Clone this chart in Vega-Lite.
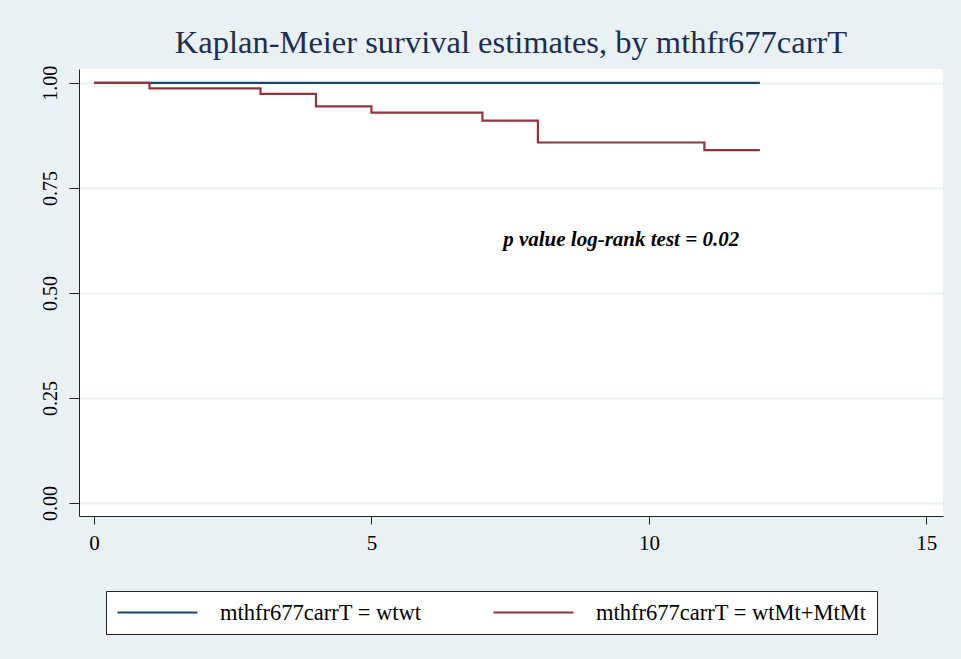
{
  "$schema": "https://vega.github.io/schema/vega-lite/v6.json",
  "autosize": {"type": "none"},
  "width": 864,
  "height": 447,
  "padding": {"left": 79, "top": 69, "right": 18, "bottom": 143},
  "background": "#EAF1F4",
  "title": {
    "text": "Kaplan-Meier survival estimates, by mthfr677carrT",
    "font": "Liberation Serif",
    "fontSize": 32.5,
    "fontWeight": "normal",
    "color": "#1c2e52",
    "anchor": "middle",
    "offset": 6
  },
  "config": {
    "font": "Liberation Serif",
    "view": {"fill": "white", "stroke": null},
    "axis": {"labelFont": "Liberation Serif", "labelFontWeight": "normal"},
    "legend": {"labelFont": "Liberation Serif", "labelFontWeight": "normal"}
  },
  "datasets": {
    "km": [
      {"t": 0, "s": 1.0, "group": "mthfr677carrT = wtwt"},
      {"t": 12, "s": 1.0, "group": "mthfr677carrT = wtwt"},
      {"t": 0, "s": 1.0, "group": "mthfr677carrT = wtMt+MtMt"},
      {"t": 1, "s": 0.987, "group": "mthfr677carrT = wtMt+MtMt"},
      {"t": 3, "s": 0.974, "group": "mthfr677carrT = wtMt+MtMt"},
      {"t": 4, "s": 0.944, "group": "mthfr677carrT = wtMt+MtMt"},
      {"t": 5, "s": 0.929, "group": "mthfr677carrT = wtMt+MtMt"},
      {"t": 7, "s": 0.910, "group": "mthfr677carrT = wtMt+MtMt"},
      {"t": 8, "s": 0.858, "group": "mthfr677carrT = wtMt+MtMt"},
      {"t": 11, "s": 0.840, "group": "mthfr677carrT = wtMt+MtMt"},
      {"t": 12, "s": 0.840, "group": "mthfr677carrT = wtMt+MtMt"}
    ],
    "note": [
      {"t": 9.5, "s": 0.626, "label": "p value log-rank test = 0.02"}
    ]
  },
  "layer": [
    {
      "data": {"name": "km"},
      "mark": {"type": "line", "interpolate": "step-after", "strokeWidth": 2.2},
      "encoding": {
        "x": {
          "field": "t", "type": "quantitative",
          "scale": {"domain": [-0.27, 15.3], "nice": false, "zero": false},
          "axis": {
            "values": [0, 5, 10, 15],
            "title": null,
            "grid": false,
            "domainColor": "#222222",
            "tickColor": "#222222",
            "tickSize": 8,
            "labelFont": "Liberation Serif",
            "labelFontSize": 21,
            "labelColor": "black",
            "labelPadding": 8
          }
        },
        "y": {
          "field": "s", "type": "quantitative",
          "scale": {"domain": [-0.031, 1.033], "nice": false, "zero": false},
          "axis": {
            "values": [0, 0.25, 0.5, 0.75, 1],
            "format": ".2f",
            "title": null,
            "grid": true,
            "gridColor": "#EAF1F4",
            "gridWidth": 2,
            "domainColor": "#222222",
            "tickColor": "#222222",
            "tickSize": 10,
            "labelFont": "Liberation Serif",
            "labelFontSize": 20,
            "labelColor": "black",
            "labelAngle": -90,
            "labelAlign": "center",
            "labelBaseline": "bottom",
            "labelPadding": 9
          }
        },
        "color": {
          "field": "group", "type": "nominal",
          "sort": null,
          "scale": {
            "domain": ["mthfr677carrT = wtwt", "mthfr677carrT = wtMt+MtMt"],
            "range": ["#1a476f", "#90353b"]
          },
          "legend": {
            "orient": "none",
            "legendX": 27,
            "legendY": 522,
            "direction": "horizontal",
            "title": null,
            "padding": 10,
            "strokeColor": "#222222",
            "fillColor": "white",
            "symbolType": "M-1,0H7",
            "symbolSize": 400,
            "symbolStrokeWidth": 2.2,
            "labelFont": "Liberation Serif",
            "labelFontSize": 22.5,
            "labelColor": "black",
            "labelLimit": 0,
            "labelOffset": 81,
            "columnPadding": 67,
            "labelExpr": "datum.value == 'mthfr677carrT = wtMt+MtMt' ? datum.label + '\u00a0\u00a0\u00a0\u00a0\u00a0\u00a0' : datum.label"
          }
        }
      }
    },
    {
      "data": {"name": "note"},
      "mark": {
        "type": "text",
        "font": "Liberation Serif",
        "fontSize": 21,
        "fontStyle": "italic",
        "fontWeight": "bold",
        "color": "black"
      },
      "encoding": {
        "x": {"field": "t", "type": "quantitative"},
        "y": {"field": "s", "type": "quantitative"},
        "text": {"field": "label"}
      }
    }
  ]
}
